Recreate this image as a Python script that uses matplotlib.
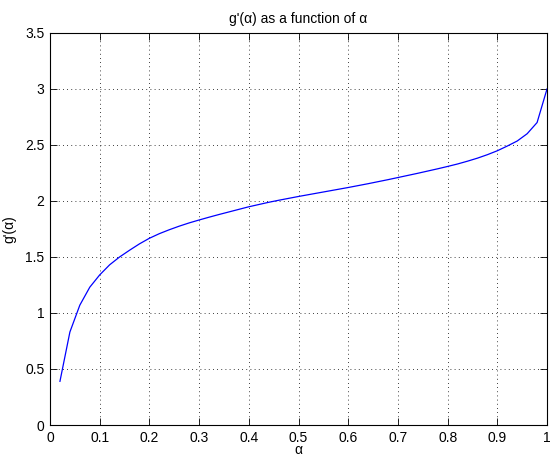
import numpy as np
import matplotlib
matplotlib.use("Agg")
import matplotlib.pyplot as plt

# alpha samples and g'(alpha) values
alpha = [0.02, 0.04, 0.06, 0.08, 0.10, 0.12, 0.14, 0.16, 0.18, 0.20,
         0.22, 0.24, 0.26, 0.28, 0.30, 0.32, 0.34, 0.36, 0.38, 0.40,
         0.42, 0.44, 0.46, 0.48, 0.50, 0.52, 0.54, 0.56, 0.58, 0.60,
         0.62, 0.64, 0.66, 0.68, 0.70, 0.72, 0.74, 0.76, 0.78, 0.80,
         0.82, 0.84, 0.86, 0.88, 0.90, 0.92, 0.94, 0.96, 0.98, 1.00]
gprime = [0.39, 0.83, 1.07, 1.23, 1.34, 1.43, 1.50, 1.56, 1.617, 1.667,
          1.708, 1.743, 1.775, 1.804, 1.830, 1.855, 1.879, 1.902, 1.925, 1.948,
          1.968, 1.988, 2.006, 2.023, 2.040, 2.056, 2.072, 2.088, 2.104, 2.120,
          2.137, 2.154, 2.172, 2.190, 2.209, 2.228, 2.247, 2.267, 2.287, 2.308,
          2.330, 2.355, 2.382, 2.413, 2.448, 2.490, 2.535, 2.600, 2.700, 3.000]

xticks = [0, 0.1, 0.2, 0.3, 0.4, 0.5, 0.6, 0.7, 0.8, 0.9, 1]
xtick_labels = ["0", "0.1", "0.2", "0.3", "0.4", "0.5", "0.6", "0.7", "0.8", "0.9", "1"]
yticks = [0, 0.5, 1, 1.5, 2, 2.5, 3, 3.5]
ytick_labels = ["0", "0.5", "1", "1.5", "2", "2.5", "3", "3.5"]

plt.rcParams['font.family'] = ['Liberation Sans', 'DejaVu Sans']
plt.rcParams['font.size'] = 10

fig = plt.figure(figsize=(5.52, 4.57), dpi=100)
ax = fig.add_axes([0.0906, 0.070, 0.9004, 0.858])

ax.plot(alpha, gprime, color='#0000ff', linewidth=0.9)

ax.set_xlim(0, 1)
ax.set_ylim(0, 3.5)
ax.set_xticks(xticks)
ax.set_xticklabels(xtick_labels)
ax.set_yticks(yticks)
ax.set_yticklabels(ytick_labels)
ax.tick_params(direction='in', length=5, width=0.6, top=True, right=True, pad=4)
ax.grid(True, linestyle=(0, (1, 4)), color='black', linewidth=0.6)
for s in ax.spines.values():
    s.set_linewidth(0.8)

ax.set_title("g'(α) as a function of α", fontsize=10, pad=7)
ax.set_xlabel("α", labelpad=-1)
ax.set_ylabel("g'(α)", labelpad=6)

fig.savefig("out.png", dpi=100)
